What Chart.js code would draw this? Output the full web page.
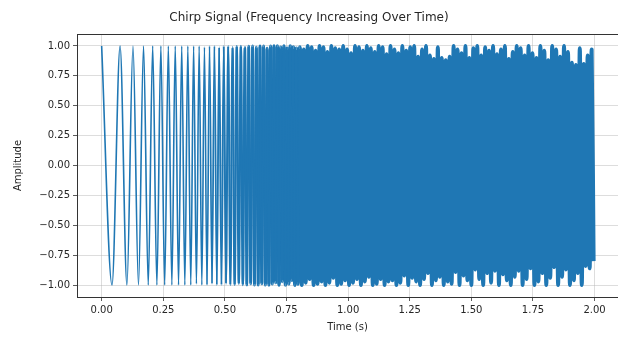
<!DOCTYPE html>
<html><head><meta charset="utf-8">
<script src="https://cdn.jsdelivr.net/npm/chart.js@4"></script>
<style>html,body{margin:0;padding:0;background:#fff;}canvas{display:block;}</style>
</head><body>
<canvas id="c" width="618" height="341"></canvas>
<script>
const titleText = 'Chirp Signal (Frequency Increasing Over Time)';
const xLabel = 'Time (s)';
const yLabel = 'Amplitude';
const xTicks = [0, 0.25, 0.5, 0.75, 1.0, 1.25, 1.5, 1.75, 2.0];
const yTicks = [-1.0, -0.75, -0.5, -0.25, 0, 0.25, 0.5, 0.75, 1.0];

// time (s) of each turning point / sample
const time = [
  0, 0.042, 0.0748, 0.1026, 0.1272, 0.1495, 0.1700, 0.1891, 0.2071, 0.2241,
  0.2403, 0.2557, 0.2706, 0.2849, 0.2986, 0.3120, 0.3249, 0.3375, 0.3497, 0.3616,
  0.3732, 0.3845, 0.3956, 0.4065, 0.4171, 0.4275, 0.4377, 0.4478, 0.4576, 0.4673,
  0.4768, 0.4862, 0.4954, 0.5045, 0.5135, 0.5223, 0.5310, 0.5396, 0.5481, 0.5565,
  0.5648, 0.5729, 0.5810, 0.5890, 0.5969, 0.6047, 0.6124, 0.6200, 0.6276, 0.6351,
  0.6425, 0.6498, 0.6571, 0.6643, 0.6714, 0.6785, 0.6855, 0.6924, 0.6993, 0.7061,
  0.7129, 0.7196, 0.7263, 0.7329, 0.7395, 0.7460, 0.7524, 0.7588, 0.7652, 0.7715,
  0.7778, 0.7840, 0.7902, 0.7963,
  0.804,
  0.812, 0.820, 0.828, 0.836, 0.844, 0.852, 0.860, 0.868, 0.876, 0.884,
  0.892, 0.900, 0.908, 0.916, 0.924, 0.932, 0.940, 0.948, 0.956, 0.964,
  0.972, 0.980, 0.988, 0.996, 1.004, 1.012, 1.020, 1.028, 1.036, 1.044,
  1.052, 1.060, 1.068, 1.076, 1.084, 1.092, 1.100, 1.108, 1.116, 1.124,
  1.132, 1.140, 1.148, 1.156, 1.164, 1.172, 1.180, 1.188, 1.196, 1.204,
  1.212, 1.220, 1.228, 1.236, 1.244, 1.252, 1.260, 1.268, 1.276, 1.284,
  1.292, 1.300, 1.308, 1.316, 1.324, 1.332, 1.340, 1.348, 1.356, 1.364,
  1.372, 1.380, 1.388, 1.396, 1.404, 1.412, 1.420, 1.428, 1.436, 1.444,
  1.452, 1.460, 1.468, 1.476, 1.484, 1.492, 1.500, 1.508, 1.516, 1.524,
  1.532, 1.540, 1.548, 1.556, 1.564, 1.572, 1.580, 1.588, 1.596, 1.604,
  1.612, 1.620, 1.628, 1.636, 1.644, 1.652, 1.660, 1.668, 1.676, 1.684,
  1.692, 1.700, 1.708, 1.716, 1.724, 1.732, 1.740, 1.748, 1.756, 1.764,
  1.772, 1.780, 1.788, 1.796, 1.804, 1.812, 1.820, 1.828, 1.836, 1.844,
  1.852, 1.860, 1.868, 1.876, 1.884, 1.892, 1.900, 1.908, 1.916, 1.924,
  1.932, 1.940, 1.948, 1.956, 1.964, 1.972, 1.980, 1.988, 1.996
];

// amplitude at each of those times
const amplitude = [
  1.00, -1.00, 1.00, -1.00, 1.00, -1.00, 1.00, -1.00, 1.00, -1.00,
  1.00, -1.00, 1.00, -1.00, 1.00, -1.00, 1.00, -1.00, 1.00, -1.00,
  1.00, -0.99, 1.00, -1.00, 0.99, -1.00, 1.00, -0.99, 1.00, -1.00,
  0.99, -1.00, 1.00, -0.99, 1.00, -1.00, 0.99, -1.00, 1.00, -0.99,
  1.00, -1.00, 0.99, -1.00, 1.00, -0.99, 1.00, -1.00, 0.99, -1.00,
  1.00, -0.99, 1.00, -1.00, 0.98, -1.00, 1.00, -0.99, 1.00, -0.98,
  1.00, -1.00, 0.99, -0.97, 1.00, -1.00, 0.98, -0.99, 1.00, -0.96,
  0.99, -1.00, 0.98, -0.99,
  0.99,
  -1.00, 0.97, -0.98, 1.00, -0.95, 0.99, -1.00, 0.96, -0.99, 1.00,
  -0.97, 0.99, -1.00, 0.95, -0.98, 1.00, -0.94, 0.98, -1.00, 0.97,
  -0.99, 1.00, -0.96, 0.97, -1.00, 0.94, -0.98, 1.00, -0.95, 0.99,
  -1.00, 0.96, -0.97, 1.00, -0.93, 0.98, -1.00, 0.95, -0.99, 1.00,
  -0.95, 0.99, -1.00, 0.93, -0.97, 1.00, -0.96, 0.97, -1.00, 0.94,
  -0.98, 1.00, -0.92, 0.96, -1.00, 0.99, -0.94, 1.00, -0.97, 0.91,
  -1.00, 0.97, -0.95, 1.00, -0.90, 0.92, -1.00, 0.89, -0.96, 0.99,
  -0.93, 0.90, -1.00, 0.88, -0.97, 0.91, -0.99, 1.00, -0.89, 0.97,
  -1.00, 0.94, -0.92, 1.00, -0.96, 0.90, -1.00, 0.98, -0.87, 1.00,
  -0.95, 0.92, -1.00, 0.99, -0.90, 0.96, -0.98, 1.00, -0.88, 0.93,
  -1.00, 0.97, -0.91, 1.00, -0.96, 0.89, -1.00, 0.95, -0.93, 1.00,
  -0.88, 0.98, -1.00, 0.92, -0.95, 1.00, -0.86, 0.94, -1.00, 0.90,
  -0.97, 1.00, -0.90, 0.96, -1.00, 0.88, -0.94, 1.00, -0.85, 0.97,
  -1.00, 0.91, -0.93, 1.00, -0.87, 0.95, -1.00, 0.86, -0.96, 0.84,
  -0.90, 0.98, -1.00, 0.85, -0.84, 0.92, -0.86, 0.97, -0.80
];

const points = time.map((t, i) => ({ x: t, y: amplitude[i] }));
const FONT = "'DejaVu Sans', sans-serif";
const TXT = '#262626';

// stroke width grows where the oscillation gets too fine to resolve
const strokeFor = x => x < 0.42 ? 1.6 : (x < 0.8 ? 1.6 + (x - 0.42) / 0.38 * 2.2 : 4.0);

const framePlugin = {
  id: 'frame',
  afterDraw(chart) {
    const a = chart.chartArea, ctx = chart.ctx;
    ctx.save();
    ctx.strokeStyle = '#333';
    ctx.lineWidth = 1;
    ctx.strokeRect(a.left + 0.5, a.top + 0.5, a.right - a.left, a.bottom - a.top);
    ctx.restore();
  }
};

new Chart(document.getElementById('c'), {
  type: 'line',
  data: {
    datasets: [{
      data: points,
      borderColor: '#1f77b4',
      borderWidth: 1.6,
      borderJoinStyle: 'round',
      pointRadius: 0,
      fill: false,
      cubicInterpolationMode: 'monotone',
      segment: {
        borderWidth: c => strokeFor(c.p0.parsed.x)
      }
    }]
  },
  plugins: [framePlugin],
  options: {
    responsive: false,
    devicePixelRatio: 1,
    animation: false,
    events: [],
    layout: { padding: 0 },
    plugins: {
      legend: { display: false },
      tooltip: { enabled: false },
      title: {
        display: true, text: titleText, color: TXT,
        font: { family: FONT, size: 12, weight: 'normal' },
        padding: { top: 11, bottom: 8.6 }
      }
    },
    scales: {
      x: {
        type: 'linear', min: -0.1, max: 2.095,
        afterBuildTicks: s => { s.ticks = xTicks.map(v => ({ value: v })); },
        afterFit: s => { s.height = 44; },
        ticks: { callback: v => Number(v).toFixed(2), color: TXT, font: { family: FONT, size: 10 }, padding: 3, maxRotation: 0, autoSkip: false },
        grid: { color: 'rgba(176,176,176,0.55)', lineWidth: 0.8, tickLength: 4, tickColor: '#333', drawTicks: true },
        border: { display: true, color: '#333', width: 1 },
        title: { display: true, text: xLabel, color: TXT, font: { family: FONT, size: 10 }, padding: { top: 0, bottom: 8 } }
      },
      y: {
        type: 'linear', min: -1.1, max: 1.1,
        afterBuildTicks: s => { s.ticks = yTicks.map(v => ({ value: v })); },
        afterFit: s => { s.width = 77; },
        ticks: { callback: v => (v < 0 ? '\u2212' : '') + Math.abs(v).toFixed(2), color: TXT, font: { family: FONT, size: 10 }, padding: 3, autoSkip: false },
        grid: { color: 'rgba(176,176,176,0.55)', lineWidth: 0.8, tickLength: 4, tickColor: '#333', drawTicks: true },
        border: { display: true, color: '#333', width: 1 },
        title: { display: true, text: yLabel, color: TXT, font: { family: FONT, size: 10 }, padding: { top: 12, bottom: 0 } }
      }
    }
  }
});
</script>
</body></html>
